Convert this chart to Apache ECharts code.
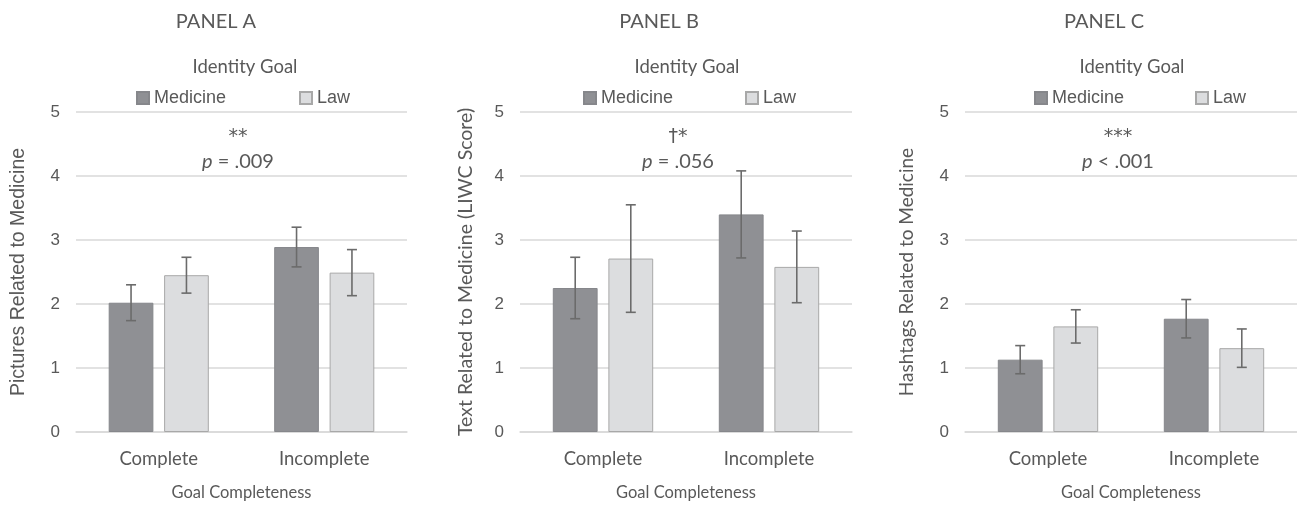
<!DOCTYPE html>
<html>
<head>
<meta charset="utf-8">
<script src="https://cdn.jsdelivr.net/npm/echarts/dist/echarts.min.js"></script>
<style>
  html, body { margin: 0; padding: 0; background: #fff; }
  #main { width: 1297px; height: 506px; }
</style>
</head>
<body>
<div id="main"></div>
<script>
// data
var categories = ['Complete', 'Incomplete'];
var seriesNames = ['Medicine', 'Law'];
var yTicks = [0, 1, 2, 3, 4, 5];

var panelTitles = ['PANEL A', 'PANEL B', 'PANEL C'];
var yTitles = ['Pictures Related to Medicine', 'Text Related to Medicine (LIWC Score)', 'Hashtags Related to Medicine'];
var stars = ['**', '\u2020*', '***'];
var pTexts = ['= .009', '= .056', '< .001'];

var medicineA = [2.02, 2.89];
var lawA = [2.45, 2.49];
var medicineErrA = [0.28, 0.31];
var lawErrA = [0.28, 0.36];

var medicineB = [2.25, 3.40];
var lawB = [2.71, 2.58];
var medicineErrB = [0.48, 0.68];
var lawErrB = [0.84, 0.56];

var medicineC = [1.13, 1.77];
var lawC = [1.65, 1.31];
var medicineErrC = [0.22, 0.30];
var lawErrC = [0.26, 0.30];

var panels = [
    { med: medicineA, law: lawA, medErr: medicineErrA, lawErr: lawErrA },
    { med: medicineB, law: lawB, medErr: medicineErrB, lawErr: lawErrB },
    { med: medicineC, law: lawC, medErr: medicineErrC, lawErr: lawErrC }
];

var txt = '#595959'
    , grid_c = '#D9D9D9'
    , med_c = '#8F9094'
    , law_c = '#DCDDDF'
    , calibri = 'Lato'
    , arial = 'Liberation Sans';

// layout of the three panels
var gridLeft = [76, 520, 965]
    , gridWidth = [331, 332, 332]
    , nameGaps = [47, 44, 49]
    , yTitleFont = [arial, calibri, calibri]
    , yTitleSize = [19.5, 19.5, 19]
    , titleX = [216, 659, 1104]
    , goalX = [245, 687, 1132]
    , medLegX = [131, 578, 1029]
    , lawLegX = [294, 740, 1190]
    , noteX = [238, 678, 1118];

var BAR = 0.27, GAP = 0.24;

function errorItem(params, api) {
    var cat = api.value(0), lo = api.value(1), hi = api.value(2), side = api.value(3);
    var band = api.size([1, 0])[0];
    var off = side * band * BAR * (1 + GAP) / 2;
    var top = api.coord([cat, hi]), bot = api.coord([cat, lo]);
    var x = top[0] + off, cap = 5;
    var st = { stroke: '#6B6B6B', lineWidth: 1.6 };
    return {
        type: 'group',
        children: [
            { type: 'line', shape: { x1: x, y1: top[1], x2: x, y2: bot[1] }, style: st },
            { type: 'line', shape: { x1: x - cap, y1: top[1], x2: x + cap, y2: top[1] }, style: st },
            { type: 'line', shape: { x1: x - cap, y1: bot[1], x2: x + cap, y2: bot[1] }, style: st }
        ]
    };
}

var grids = [], xAxes = [], yAxes = [], series = [], legends = [], texts = [];

panels.forEach(function (p, i) {
    grids.push({ left: gridLeft[i], width: gridWidth[i], top: 112, height: 324 });
    xAxes.push({
        type: 'category', gridIndex: i, data: categories,
        axisLine: { lineStyle: { color: grid_c, width: 1.5 } },
        axisTick: { show: false },
        axisLabel: { color: txt, fontFamily: calibri, fontSize: 18.5, margin: 18 },
        name: 'Goal Completeness', nameLocation: 'middle', nameGap: 52,
        nameTextStyle: { color: txt, fontFamily: calibri, fontSize: 16.5 }
    });
    yAxes.push({
        type: 'value', gridIndex: i, min: yTicks[0], max: yTicks[yTicks.length - 1], interval: 1,
        axisLine: { show: false }, axisTick: { show: false },
        axisLabel: { color: txt, fontFamily: arial, fontSize: 17, margin: 16 },
        splitLine: { lineStyle: { color: grid_c, width: 1.5 } },
        name: yTitles[i], nameLocation: 'middle', nameGap: nameGaps[i],
        nameTextStyle: { color: txt, fontFamily: yTitleFont[i], fontSize: yTitleSize[i] }
    });

    series.push({
        name: seriesNames[0], type: 'bar', xAxisIndex: i, yAxisIndex: i, data: p.med,
        barWidth: (BAR * 100) + '%', barGap: (GAP * 100) + '%',
        itemStyle: { color: med_c, borderColor: '#86878B', borderWidth: 1 }
    });
    series.push({
        name: seriesNames[1], type: 'bar', xAxisIndex: i, yAxisIndex: i, data: p.law,
        barWidth: (BAR * 100) + '%', barGap: (GAP * 100) + '%',
        itemStyle: { color: law_c, borderColor: '#A8A8A8', borderWidth: 1 }
    });

    var errData = [];
    for (var j = 0; j < categories.length; j++) {
        errData.push([j, p.med[j] - p.medErr[j], p.med[j] + p.medErr[j], -1]);
        errData.push([j, p.law[j] - p.lawErr[j], p.law[j] + p.lawErr[j], 1]);
    }
    series.push({
        type: 'custom', xAxisIndex: i, yAxisIndex: i, renderItem: errorItem,
        data: errData, z: 10, silent: true
    });

    legends.push({
        data: [seriesNames[0]], left: medLegX[i], top: 84, icon: 'rect',
        itemWidth: 12, itemHeight: 12,
        textStyle: { color: txt, fontFamily: arial, fontSize: 18 }
    });
    legends.push({
        data: [seriesNames[1]], left: lawLegX[i], top: 84, icon: 'rect',
        itemWidth: 12, itemHeight: 12,
        textStyle: { color: txt, fontFamily: arial, fontSize: 18 }
    });

    texts.push({
        type: 'text', x: titleX[i], y: 22,
        style: { text: panelTitles[i], fill: txt, font: '20px Lato', textAlign: 'center', textVerticalAlign: 'middle' }
    });
    texts.push({
        type: 'text', x: goalX[i], y: 67,
        style: { text: 'Identity Goal', fill: txt, font: '18.5px Lato', textAlign: 'center', textVerticalAlign: 'middle' }
    });
    texts.push({
        type: 'text', x: noteX[i], y: 137,
        style: { text: stars[i], fill: txt, font: '19px "DejaVu Sans"', textAlign: 'center', textVerticalAlign: 'middle' }
    });
    texts.push({
        type: 'text', x: noteX[i], y: 162,
        style: {
            text: '{i|p} ' + pTexts[i], fill: txt, font: '20px Lato', textAlign: 'center', textVerticalAlign: 'middle',
            rich: { i: { fontStyle: 'italic', fontFamily: 'Lato', fontSize: 20, fill: txt } }
        }
    });
});

var myChart = echarts.init(document.getElementById('main'));
myChart.setOption({
    animation: false,
    backgroundColor: '#fff',
    grid: grids,
    xAxis: xAxes,
    yAxis: yAxes,
    legend: legends,
    graphic: texts,
    series: series
});
</script>
</body>
</html>
